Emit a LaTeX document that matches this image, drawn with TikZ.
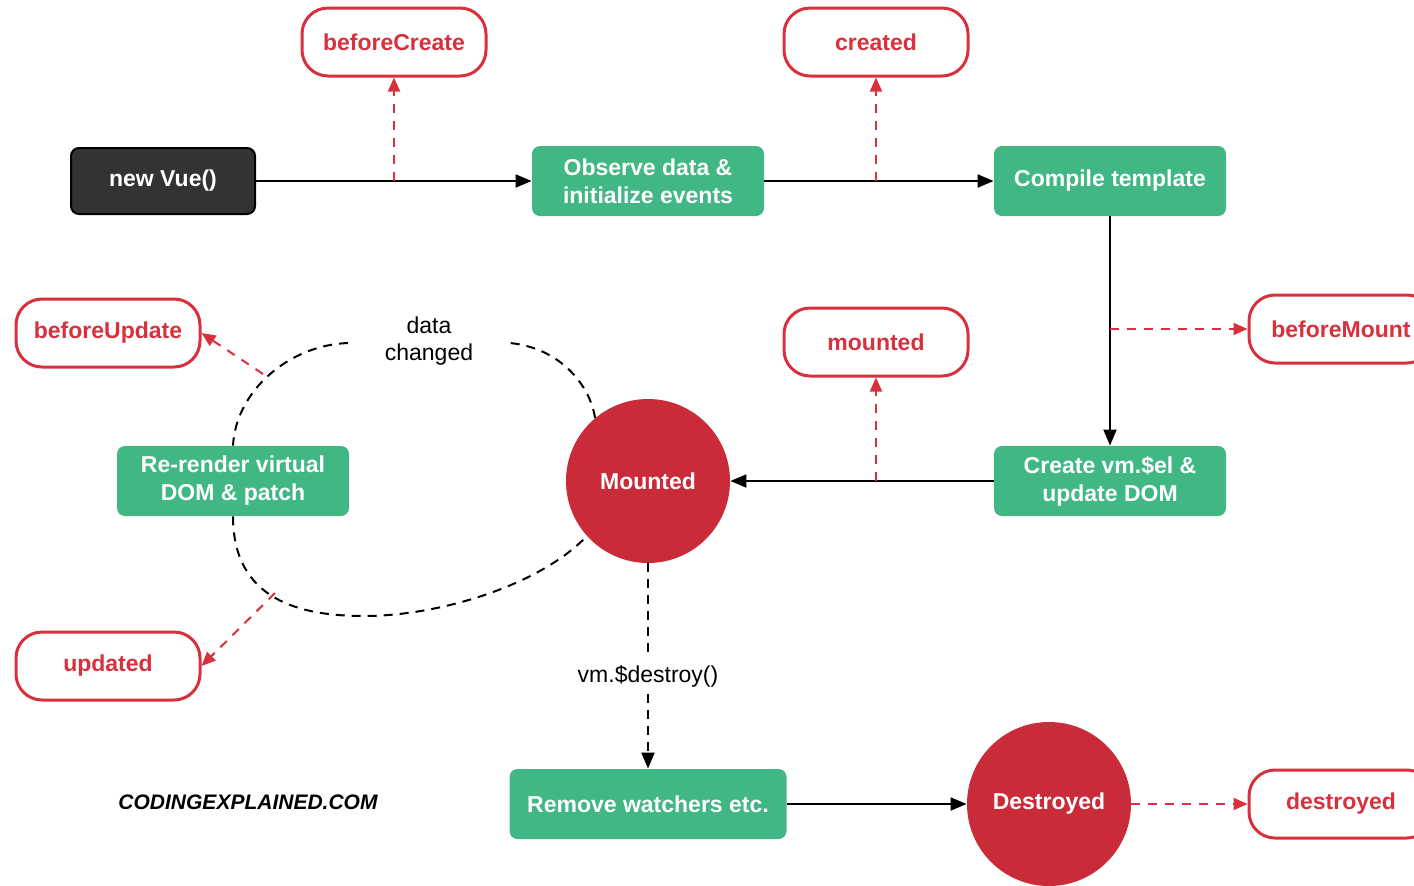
\documentclass[tikz,border=0pt]{standalone}
\usepackage{fontspec}
\setmainfont{Liberation Sans}
\usepackage{tikz}
\usetikzlibrary{arrows.meta}
\definecolor{vuegreen}{HTML}{41B883}
\definecolor{hookred}{HTML}{D9303E}
\definecolor{circred}{HTML}{C92B39}
\definecolor{vuedark}{HTML}{333333}

\begin{document}
\begin{tikzpicture}
  [x=0.5pt,y=-0.5pt,
   every node/.style={font=\fontsize{11.5}{14}\selectfont\bfseries,align=center},
   stage/.style={rectangle,rounded corners=4pt,fill=vuegreen,text=white,minimum width=116pt,minimum height=35pt,inner sep=0pt},
   hook/.style={rectangle,rounded corners=13pt,draw=hookred,line width=1.5pt,fill=white,text=hookred,minimum width=92pt,minimum height=34pt},
   event/.style={circle,fill=circred,text=white,minimum size=82pt,inner sep=0pt},
   note/.style={font=\fontsize{11.5}{13.5}\selectfont},
   flow/.style={-{Triangle[length=8pt,width=6.5pt]},line width=1pt},
   hookline/.style={-{Triangle[length=7pt,width=6pt]},draw=hookred,line width=1pt,dash pattern=on 4.5pt off 4pt},
   loopline/.style={line width=1pt,dash pattern=on 4.5pt off 3.5pt}]
  \fill[white] (0,0) rectangle (1414,885);
  \useasboundingbox (0,0) rectangle (1414,885);

  \node[hook] (bcreate) at (394,42) {beforeCreate};
  \node[hook] (created) at (876,42) {created};
  \node[rectangle,rounded corners=4pt,draw=black,line width=1pt,fill=vuedark,text=white,
        minimum width=92pt,minimum height=33pt] (newvue) at (163,181) {new Vue()};
  \node[stage] (observe) at (648,181) {Observe data \&\\initialize events};
  \node[stage] (compile) at (1110,181) {Compile template};
  \node[hook] (bmount) at (1341,329) {beforeMount};
  \node[hook] (mounted) at (876,342) {mounted};
  \node[stage] (create) at (1110,481) {Create vm.\$el \&\\update DOM};
  \node[event] (mnt) at (648,481) {Mounted};
  \node[stage] (rerender) at (233,481) {Re-render virtual\\DOM \& patch};
  \node[hook] (bupdate) at (108,333) {beforeUpdate};
  \node[hook] (updated) at (108,666) {updated};
  \node[note] (datachg) at (429,341) {data\\changed};
  \node[note] (destroy) at (648,676) {vm.\$destroy()};
  \node[stage,minimum width=138.5pt] (remove) at (648,804) {Remove watchers etc.};
  \node[event] (dstr) at (1049,804) {Destroyed};
  \node[hook] (destroyed) at (1341,804) {destroyed};
  \node[font=\fontsize{10.5}{12}\selectfont\bfseries\itshape] (site) at (248,802) {CODINGEXPLAINED.COM};

  % taps on the connectors
  \coordinate (tapbc) at (394,181);
  \coordinate (tapcr) at (876,181);
  \coordinate (tapbm) at (1110,329);
  \coordinate (tapmt) at (876,481);
  \coordinate (tapbu) at (263,374);
  \coordinate (tapud) at (275,593);
  \coordinate (gapL) at (348,343);
  \coordinate (gapR) at (510,343);

  \draw[flow] (newvue) -- (observe);
  \draw[flow] (observe) -- (compile);
  \draw[flow] (compile) -- (create);
  \draw[flow] (create) -- (mnt);
  \draw[flow] (remove) -- (dstr);

  \draw[hookline] (tapbc) -- (bcreate);
  \draw[hookline] (tapcr) -- (created);
  \draw[hookline] (tapbm) -- (bmount);
  \draw[hookline] (tapmt) -- (mounted);
  \draw[hookline] (dstr) -- (destroyed);
  \draw[hookline] (tapbu) -- (bupdate.east);
  \draw[hookline] (tapud) -- (updated.east);

  % update loop
  \draw[loopline] (mnt.130) .. controls (590,385) and (560,348) .. (gapR);
  \draw[loopline] (gapL) .. controls (290,345) and (236,390) .. (rerender.north);
  \draw[loopline] (rerender.south) .. controls (233,600) and (300,616) .. (364,616)
    .. controls (440,616) and (540,585) .. (mnt.222);

  % teardown
  \draw[loopline] (mnt) -- (destroy);
  \draw[loopline,-{Triangle[length=8pt,width=6.5pt]}] (destroy) -- (remove);
\end{tikzpicture}
\end{document}
